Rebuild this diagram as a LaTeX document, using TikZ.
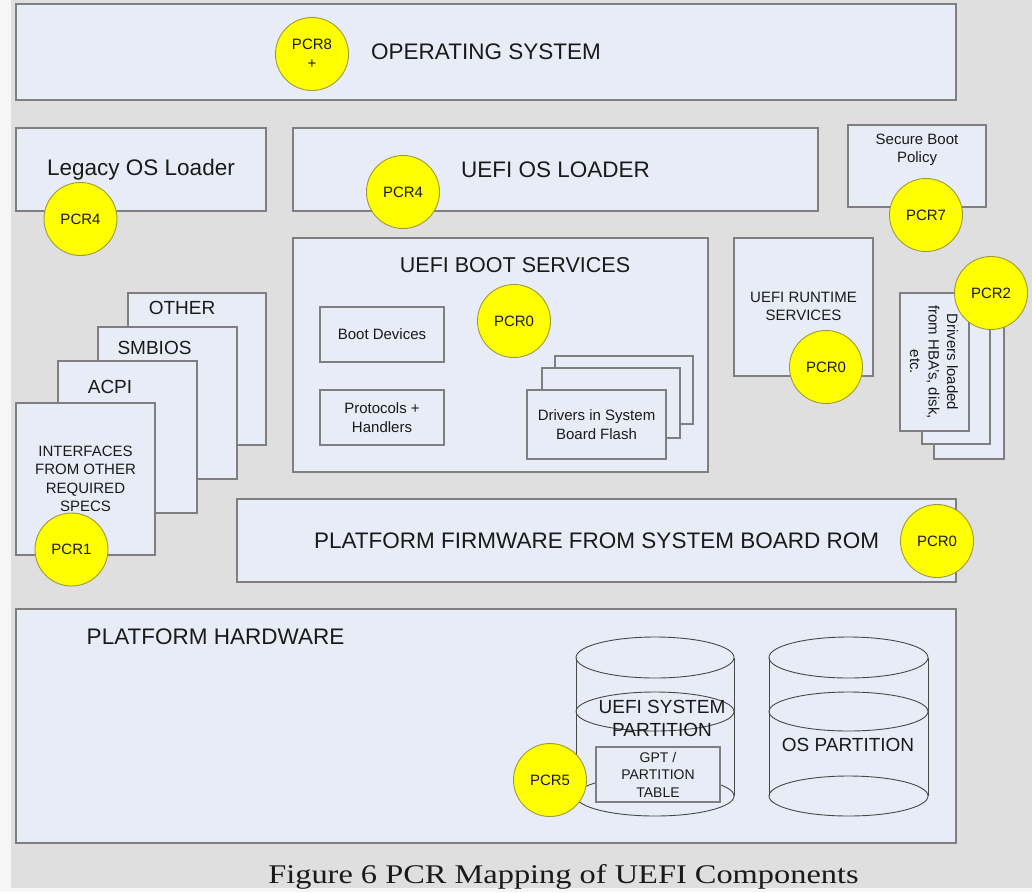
\documentclass[tikz,border=0pt]{standalone}
\usepackage{fontspec}
\setmainfont{Liberation Sans}
\newfontfamily\capfont{Liberation Serif}
\definecolor{bggrey}{HTML}{DFDFDF}
\definecolor{bgwhite}{HTML}{F6F6F6}
\definecolor{boxfill}{HTML}{E8ECF6}
\definecolor{boxline}{HTML}{7F7F7F}
\definecolor{circline}{HTML}{9C9A3C}
\definecolor{pcryellow}{HTML}{FFFF00}
\definecolor{txt}{HTML}{1A1A1A}
\definecolor{cylline}{HTML}{484848}
\newcommand\FontBig{\fontsize{22.5}{26}\selectfont}
\newcommand\FontMed{\fontsize{19}{23}\selectfont}
\newcommand\FontSmall{\fontsize{15}{18.5}\selectfont}
\newcommand\FontTiny{\fontsize{14}{17.5}\selectfont}
\begin{document}
\begin{tikzpicture}[x=1pt,y=-1pt,
  box/.style={rectangle, draw=boxline, line width=1.3pt, fill=boxfill, inner sep=0pt, text=txt, align=center},
  pcr/.style={circle, draw=circline, line width=0.9pt, fill=pcryellow, minimum size=73pt, inner sep=0pt, text=txt, align=center, font=\FontSmall},
  lbl/.style={inner sep=0pt, text=txt, align=center},
  cyl/.style={draw=cylline, line width=0.9pt}]
\useasboundingbox (0,0) rectangle (1032,892);
\fill[bgwhite] (0,0) rectangle (1032,892);
\fill[bggrey] (11,0) rectangle (1032,888);

% Operating system
\node[box, minimum width=940pt, minimum height=96pt, font=\FontBig] (os) at (486,52) {OPERATING SYSTEM};
\node[pcr] (pcr8) at (312,54) {PCR8\\+};

% Loaders
\node[box, minimum width=250pt, minimum height=83pt, font=\FontBig] (legacy) at (141,169.5) {Legacy OS Loader};
\node[box, minimum width=525pt, minimum height=83pt, font=\FontBig] (uefild) at (555.5,169.5) {UEFI OS LOADER};
\node[pcr] (pcr4a) at (80.5,219) {PCR4};
\node[pcr] (pcr4b) at (403,192) {PCR4};

% Secure boot
\node[box, minimum width=138pt, minimum height=82pt] (secure) at (917,166) {};
\node[lbl, font=\FontSmall] (secureT) at (917,150) {Secure Boot\\Policy};
\node[pcr] (pcr7) at (926,215) {PCR7};

% Boot services
\node[box, minimum width=415pt, minimum height=234pt] (bootsvc) at (500.5,355) {};
\node[lbl, font=\fontsize{21.5}{26}\selectfont] (bootsvcT) at (515,265) {UEFI BOOT SERVICES};
\node[box, minimum width=124pt, minimum height=55pt, font=\FontSmall] (bootdev) at (382,334.5) {Boot Devices};
\node[box, minimum width=124pt, minimum height=55pt, font=\FontSmall] (proto) at (382,417.5) {Protocols +\\Handlers};
\node[box, minimum width=138pt, minimum height=68pt] (flash3) at (624,390) {};
\node[box, minimum width=138pt, minimum height=70pt] (flash2) at (611,403) {};
\node[box, minimum width=139pt, minimum height=69pt, font=\FontSmall] (flash1) at (596.5,424.5) {Drivers in System\\Board Flash};
\node[pcr] (pcr0a) at (514,321) {PCR0};

% Runtime services
\node[box, minimum width=139pt, minimum height=138pt] (runtime) at (803.5,307) {};
\node[lbl, font=\FontSmall] (runtimeT) at (803.5,306.5) {UEFI RUNTIME\\SERVICES};
\node[pcr] (pcr0b) at (826,367) {PCR0};

% HBA drivers
\node[box, minimum width=70pt, minimum height=137pt] (hba3) at (969,390.5) {};
\node[box, minimum width=68pt, minimum height=137pt] (hba2) at (956,375.5) {};
\node[box, minimum width=69pt, minimum height=138pt] (hba1) at (934.5,362) {};
\node[lbl, font=\FontSmall, rotate=-90] (hbaT) at (934,362) {Drivers loaded\\from HBA's, disk,\\etc.};
\node[pcr] (pcr2) at (991,293) {PCR2};

% Interface stack
\node[box, minimum width=138pt, minimum height=152pt] (other) at (197,369) {};
\node[lbl, font=\FontMed] (otherT) at (182,308) {OTHER};
\node[box, minimum width=139pt, minimum height=152pt] (smbios) at (167.5,403) {};
\node[lbl, font=\FontMed] (smbiosT) at (154.5,348) {SMBIOS};
\node[box, minimum width=139pt, minimum height=152pt] (acpi) at (127.5,437) {};
\node[lbl, font=\FontMed] (acpiT) at (110,387) {ACPI};
\node[box, minimum width=139pt, minimum height=152pt, font=\FontSmall] (iface) at (85.5,479) {INTERFACES\\FROM OTHER\\REQUIRED\\SPECS};
\node[pcr] (pcr1) at (71.5,549.5) {PCR1};

% Platform firmware
\node[box, minimum width=719pt, minimum height=83pt, font=\FontBig] (firmware) at (596.5,540.5) {PLATFORM FIRMWARE FROM SYSTEM BOARD ROM};
\node[pcr] (pcr0c) at (937,541) {PCR0};

% Platform hardware
\node[box, minimum width=940pt, minimum height=234pt] (hardware) at (486,726) {};
\node[lbl, font=\FontBig] (hardwareT) at (215.5,637) {PLATFORM HARDWARE};

% Cylinders
\fill[boxfill] (576,657.5) rectangle (734,796);
\fill[boxfill] (655,796) ellipse [x radius=79, y radius=20];
\draw[cyl] (576,657.5) -- (576,796) (734,657.5) -- (734,796);
\draw[cyl] (655,657.5) ellipse [x radius=79, y radius=20.5];
\draw[cyl] (655,711.5) ellipse [x radius=79, y radius=19.5];
\draw[cyl] (655,796) ellipse [x radius=79, y radius=20];

\fill[boxfill] (769,657.5) rectangle (928,796);
\fill[boxfill] (848.5,796) ellipse [x radius=79.5, y radius=20];
\draw[cyl] (769,657.5) -- (769,796) (928,657.5) -- (928,796);
\draw[cyl] (848.5,657.5) ellipse [x radius=79.5, y radius=20.5];
\draw[cyl] (848.5,711.5) ellipse [x radius=79.5, y radius=19.5];
\draw[cyl] (848.5,796) ellipse [x radius=79.5, y radius=20];

\node[lbl, font=\FontMed] (espT) at (662,718) {UEFI SYSTEM\\PARTITION};
\node[lbl, font=\FontMed] (osT) at (848,745) {OS PARTITION};
\node[box, minimum width=124pt, minimum height=55pt, font=\FontTiny] (gpt) at (658,774.5) {GPT /\\PARTITION\\TABLE};
\node[pcr] (pcr5) at (550,780) {PCR5};

% Caption
\node[lbl, font=\capfont\fontsize{27}{30}\selectfont] (caption) at (563.5,877) {\scalebox{1.2}[1]{Figure 6 PCR Mapping of UEFI Components}};
\end{tikzpicture}
\end{document}
